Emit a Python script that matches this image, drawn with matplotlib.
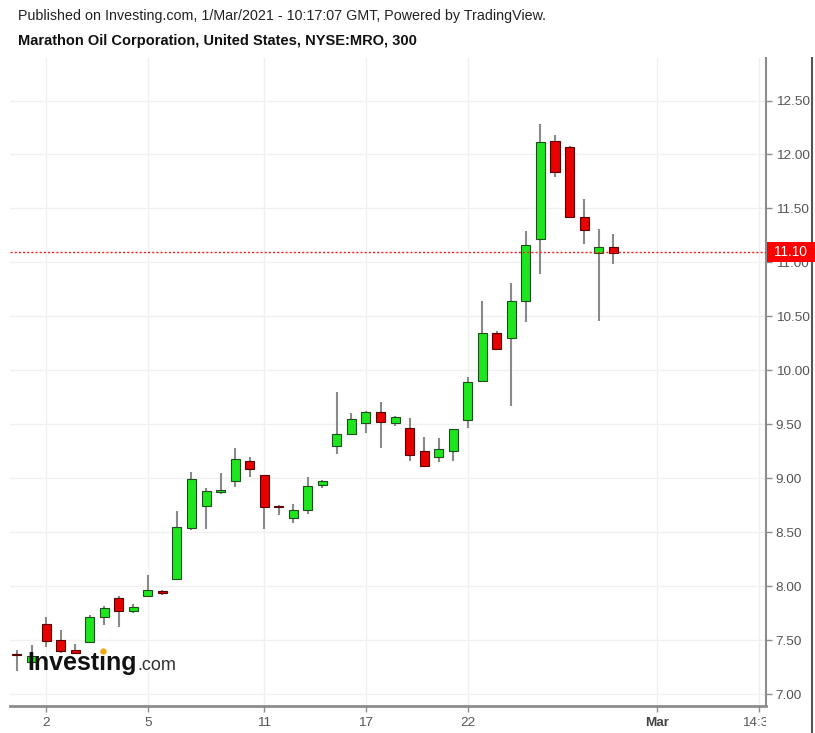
import matplotlib
matplotlib.use("Agg")
import matplotlib.pyplot as plt
import matplotlib.transforms as mtransforms
from matplotlib.lines import Line2D
from matplotlib.patches import Rectangle
import numpy as np

plt.rcParams['font.family'] = ['Liberation Sans', 'DejaVu Sans']

# ---- data ----
opens  = [7.37, 7.30, 7.65, 7.50, 7.41, 7.48, 7.71, 7.89, 7.77, 7.91, 7.955, 8.07, 8.54, 8.74, 8.875,
          8.97, 9.16, 9.03, 8.742, 8.63, 8.705, 8.937, 9.30, 9.41, 9.51, 9.61, 9.51, 9.465, 9.25,
          9.196, 9.25, 9.54, 9.90, 10.346, 10.30, 10.64, 11.22, 12.125, 12.07, 11.42, 11.083, 11.143]
highs  = [7.41, 7.45, 7.71, 7.59, 7.46, 7.73, 7.82, 7.91, 7.83, 8.10, 7.964, 8.70, 9.06, 8.91, 9.05,
          9.28, 9.20, 9.03, 8.75, 8.76, 9.01, 8.98, 9.80, 9.60, 9.62, 9.71, 9.58, 9.56, 9.38,
          9.37, 9.46, 9.94, 10.64, 10.364, 10.81, 11.29, 12.28, 12.18, 12.08, 11.59, 11.31, 11.26]
lows   = [7.21, 7.27, 7.44, 7.38, 7.37, 7.47, 7.64, 7.62, 7.75, 7.90, 7.918, 8.057, 8.52, 8.53, 8.854,
          8.918, 9.01, 8.53, 8.659, 8.585, 8.668, 8.909, 9.22, 9.40, 9.42, 9.28, 9.484, 9.16, 9.10,
          9.15, 9.16, 9.465, 9.89, 10.19, 9.67, 10.45, 10.89, 11.79, 11.41, 11.17, 10.457, 10.985]
closes = [7.36, 7.35, 7.49, 7.40, 7.38, 7.71, 7.80, 7.77, 7.806, 7.964, 7.936, 8.548, 8.99, 8.88, 8.885,
          9.18, 9.085, 8.733, 8.733, 8.705, 8.928, 8.974, 9.41, 9.55, 9.61, 9.52, 9.567, 9.215, 9.113,
          9.271, 9.456, 9.89, 10.346, 10.197, 10.64, 11.16, 12.116, 11.838, 11.42, 11.30, 11.143, 11.087]
last_price = 11.10

xtick_pos = [2, 9, 17, 24, 31, 44, 51]
xtick_labels = ['2', '5', '11', '17', '22', 'Mar', '14:30']
ytick_vals = [7.0, 7.5, 8.0, 8.5, 9.0, 9.5, 10.0, 10.5, 11.0, 11.5, 12.0, 12.5]

title1 = "Published on Investing.com, 1/Mar/2021 - 10:17:07 GMT, Powered by TradingView."
title2 = "Marathon Oil Corporation, United States, NYSE:MRO, 300"

# ---- figure ----
W, H = 815, 733
fig = plt.figure(figsize=(W / 100, H / 100), dpi=100)
ax = fig.add_axes([10 / W, 27 / H, 756 / W, 648 / H])

x = np.arange(len(opens))
o = np.array(opens); c = np.array(closes)
up = c >= o
GREEN = '#1ee61e'
RED = '#e60000'

ax.vlines(x, lows, highs, color='#8a8a8a', lw=1.5, zorder=2)
bottoms = np.minimum(o, c)
heights = np.maximum(np.abs(c - o), 0.012)
ax.bar(x, heights, bottom=bottoms, width=0.62,
       color=[GREEN if u else RED for u in up],
       edgecolor=['#1d4d1d' if u else '#5a0000' for u in up], linewidth=0.8, zorder=3)

ax.axhline(last_price, color='#ff1a1a', lw=1, ls=(0, (1.5, 1.5)), zorder=4)

ax.set_xlim(-0.48, 51.51)
ax.set_ylim(6.889, 12.894)

ax.set_xticks(xtick_pos)
ax.set_xticklabels(xtick_labels)
ax.set_yticks(ytick_vals)
ax.set_yticklabels([f"{v:.2f}" for v in ytick_vals])
ax.yaxis.tick_right()

ax.grid(True, color='#f0f0f0', lw=1)
ax.set_axisbelow(True)

for s in ['left', 'top']:
    ax.spines[s].set_visible(False)
ax.spines['bottom'].set_color('#8c8c8c'); ax.spines['bottom'].set_linewidth(2)
ax.spines['right'].set_color('#8c8c8c'); ax.spines['right'].set_linewidth(1.5)

ax.tick_params(axis='both', colors='#8c8c8c', length=4, width=1, labelcolor='#555555', labelsize=9.7)
ax.tick_params(axis='x', pad=4)
ax.tick_params(axis='y', pad=3)

for lbl in ax.get_xticklabels():
    if lbl.get_text() == 'Mar':
        lbl.set_fontweight('bold')
        lbl.set_color('#444444')
clipbox = mtransforms.TransformedBbox(mtransforms.Bbox([[0, 0], [766 / W, 1]]), fig.transFigure)
for lbl in ax.get_xticklabels():
    lbl.set_clip_box(clipbox)
    lbl.set_clip_on(True)

# price label box
bt = mtransforms.blended_transform_factory(fig.transFigure, ax.transData)
dy = 10 / 107.9
fig.add_artist(Rectangle((767 / W, last_price - dy), 48 / W, 2 * dy, transform=bt,
                         facecolor='#ff0000', edgecolor='none', zorder=10))
fig.text(790 / W, last_price, f"{last_price:.2f}", transform=bt, ha='center', va='center',
         color='white', fontsize=9.9, zorder=11)

# outer right border
fig.add_artist(Line2D([812 / W, 812 / W], [0, (H - 58) / H], color='#555555', lw=1.5))

# titles
fig.text(18 / W, (H - 20) / H, title1, fontsize=10.3, color='#222222', va='baseline')
fig.text(18 / W, (H - 45) / H, title2, fontsize=10.5, color='#111111', va='baseline', fontweight='bold')

# watermark logo
fig.text(27 / W, (H - 670) / H, "Investing", fontsize=18, fontweight='bold', color='#111111',
         va='baseline', zorder=20)
fig.text(137 / W, (H - 670) / H, ".com", fontsize=13, color='#333333', va='baseline', zorder=20)
fig.add_artist(Line2D([103 / W], [(H - 651) / H], marker='o', markersize=4.5,
                      color='#f5a800', markeredgewidth=0, zorder=21))

fig.savefig("out.png", dpi=100, facecolor='white')
